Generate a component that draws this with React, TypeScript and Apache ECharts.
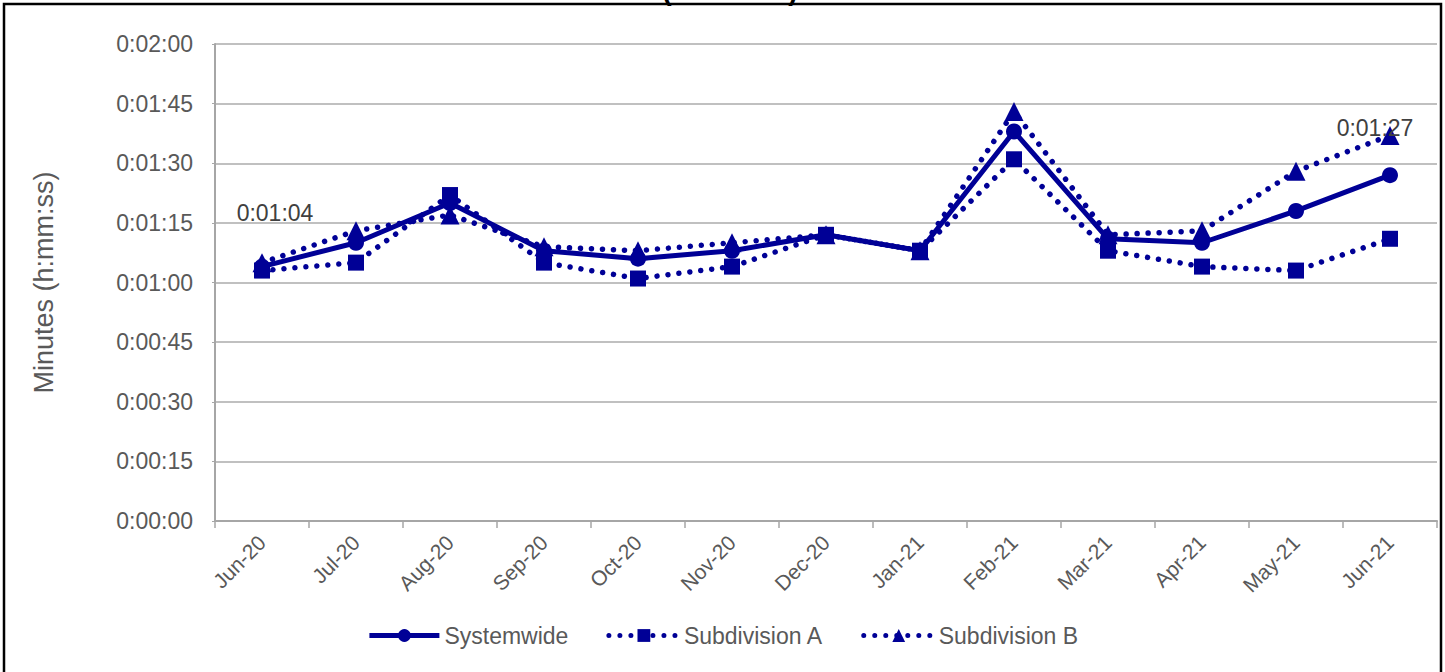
import React, { useEffect, useRef } from "react";
import * as echarts from "echarts";

const categories = ["Jun-20", "Jul-20", "Aug-20", "Sep-20", "Oct-20", "Nov-20", "Dec-20", "Jan-21", "Feb-21", "Mar-21", "Apr-21", "May-21", "Jun-21"];
// values in seconds
const systemwide = [64, 70, 80, 68, 66, 68, 72, 68, 98, 71, 70, 78, 87];
const subdivisionA = [63, 65, 82, 65, 61, 64, 72, 68, 91, 68, 64, 63, 71];
const subdivisionB = [65, 73, 77, 69, 68, 70, 72, 68, 103, 72, 73, 88, 97];
const yTicks = { min: 0, max: 120, interval: 15 };

const NAVY = "#000096";
const GREY = "#595959";

function fmt(sec: number): string {
  const h = Math.floor(sec / 3600);
  const m = Math.floor((sec % 3600) / 60);
  const s = Math.round(sec % 60);
  return `${h}:${String(m).padStart(2, "0")}:${String(s).padStart(2, "0")}`;
}

export default function App() {
  const ref = useRef<HTMLDivElement>(null);
  useEffect(() => {
    document.body.style.margin = "0";
    const chart = echarts.init(ref.current!, null, { renderer: "svg" });
    const font = "'Liberation Sans', Arial, sans-serif";
    const sysData = systemwide.map((v, i) => {
      if (i === 0) {
        return { value: v, label: { show: true, position: "inside", offset: [13, -54], formatter: () => fmt(v) } };
      }
      if (i === systemwide.length - 1) {
        return { value: v, label: { show: true, position: "inside", offset: [-15, -47], formatter: () => fmt(v) } };
      }
      return v;
    });
    chart.setOption({
      animation: false,
      textStyle: { fontFamily: font },
      graphic: [
        {
          type: "rect",
          shape: { x: 4, y: 4, width: 1437, height: 700 },
          style: { fill: "none", stroke: "#000", lineWidth: 2.5 },
          silent: true,
        },
        {
          type: "text",
          x: 730,
          y: 4,
          style: { text: "(h:mm:ss)", font: `bold 28px ${font}`, fill: "#000", align: "center", verticalAlign: "bottom" },
          z: -1,
        },
      ],
      grid: { left: 215, right: 8, top: 44, bottom: 151, containLabel: false },
      legend: {
        bottom: 20,
        left: "center",
        itemWidth: 70,
        itemHeight: 16,
        itemGap: 38,
        lineStyle: { width: 5 },
        textStyle: { fontSize: 23, color: GREY, fontFamily: font },
        data: ["Systemwide", "Subdivision A", "Subdivision B"],
      },
      xAxis: {
        type: "category",
        data: categories,
        boundaryGap: true,
        axisLine: { lineStyle: { color: "#a6a6a6", width: 2 } },
        axisTick: { show: true, length: 7, lineStyle: { color: "#a6a6a6", width: 1.5 } },
        axisLabel: { rotate: 45, fontSize: 21, color: GREY, margin: 18, interval: 0 },
      },
      yAxis: {
        type: "value",
        min: yTicks.min,
        max: yTicks.max,
        interval: yTicks.interval,
        name: "Minutes (h:mm:ss)",
        nameLocation: "middle",
        nameGap: 158,
        nameTextStyle: { fontSize: 27, color: GREY, fontFamily: font },
        axisLine: { show: true, lineStyle: { color: "#a6a6a6", width: 2 } },
        axisTick: { show: true, inside: false, length: 3, lineStyle: { color: "#a6a6a6" } },
        splitLine: { lineStyle: { color: "#c0c0c0", width: 2 } },
        axisLabel: { fontSize: 23, color: GREY, margin: 22, formatter: (v: number) => fmt(v) },
      },
      series: [
        {
          name: "Subdivision A",
          type: "line",
          data: subdivisionA,
          symbol: "rect",
          symbolSize: 16,
          itemStyle: { color: NAVY },
          lineStyle: { color: NAVY, width: 5.5, type: [0.01, 11], cap: "round" },
          z: 2,
        },
        {
          name: "Subdivision B",
          type: "line",
          data: subdivisionB,
          symbol: "triangle",
          symbolSize: 19,
          itemStyle: { color: NAVY },
          lineStyle: { color: NAVY, width: 5.5, type: [0.01, 11], cap: "round" },
          z: 3,
        },
        {
          name: "Systemwide",
          type: "line",
          data: sysData,
          symbol: "circle",
          symbolSize: 16,
          itemStyle: { color: NAVY },
          lineStyle: { color: NAVY, width: 5, type: "solid" },
          label: { fontSize: 23, color: "#404040", fontFamily: font },
          z: 4,
        },
      ],
    });
    return () => chart.dispose();
  }, []);
  return <div ref={ref} style={{ width: 1445, height: 672 }} />;
}
